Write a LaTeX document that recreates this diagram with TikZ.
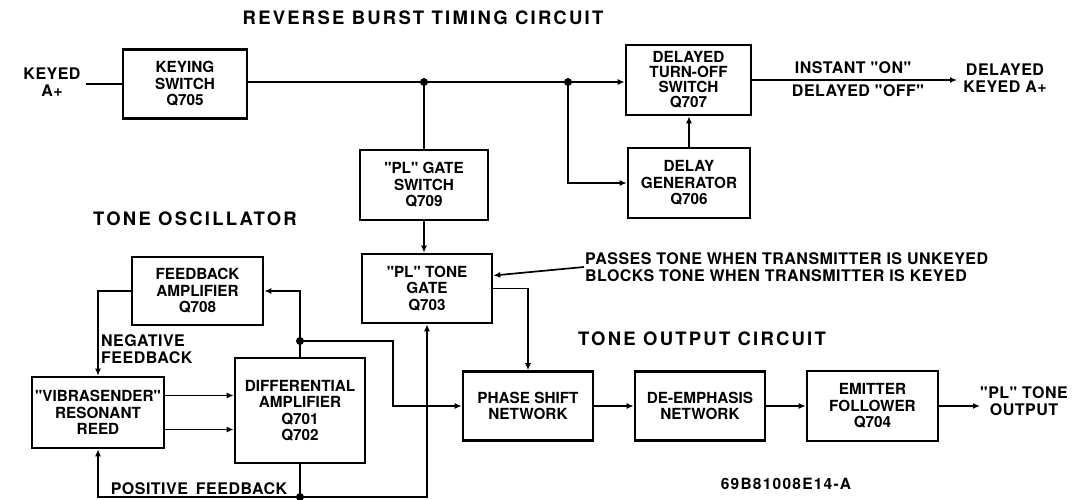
\documentclass[tikz,border=0pt]{standalone}
\usepackage{fontspec}
\setmainfont[Ligatures=TeXOff]{TeX Gyre Heros}
\newfontfamily\lblfam[Ligatures=TeXOff, LetterSpace=3]{TeX Gyre Heros}
\newfontfamily\titlefam[Ligatures=TeXOff, LetterSpace=12]{TeX Gyre Heros}
\newfontfamily\codefam[Ligatures=TeXOff, LetterSpace=8]{TeX Gyre Heros}
\usetikzlibrary{arrows.meta}
\newcommand\bxfont{\bfseries\fontsize{15.3}{16.5}\selectfont}
\newcommand\lbfont{\lblfam\bfseries\fontsize{16}{17}\selectfont}
\begin{document}
\begin{tikzpicture}[x=1pt,y=-1pt,
  box/.style={draw, line width=2.6pt, align=center, font=\bxfont, inner sep=0pt},
  conn/.style={line width=1.7pt},
  arr/.style={conn, -{Latex[length=7pt,width=6pt]}},
  lbl/.style={font=\lbfont, align=center, inner sep=1pt},
  ttl/.style={font=\titlefam\bfseries\fontsize{18.5}{22}\selectfont, inner sep=0pt}]
\fill[white] (0,0) rectangle (1086,500);
\useasboundingbox (0,0) rectangle (1086,500);

% titles
\node[ttl] (t1) at (423,18) {REVERSE BURST TIMING CIRCUIT};
\node[ttl] (t2) at (195,219) {TONE OSCILLATOR};
\node[ttl] (t3) at (702,339) {TONE OUTPUT CIRCUIT};

% boxes
\node[box, minimum width=124pt, minimum height=69pt] (ks) at (185,84) {KEYING\\SWITCH\\Q705};
\node[box, minimum width=125pt, minimum height=70pt, font=\bfseries\fontsize{15.3}{15}\selectfont] (dts) at (688.5,80) {DELAYED\\TURN-OFF\\SWITCH\\Q707};
\node[box, minimum width=122pt, minimum height=70pt] (dg) at (689,183) {DELAY\\GENERATOR\\Q706};
\node[box, minimum width=128pt, minimum height=70pt] (gs) at (424,185) {"PL" GATE\\SWITCH\\Q709};
\node[box, minimum width=130pt, minimum height=69pt] (tg) at (427,288.5) {"PL" TONE\\GATE\\Q703};
\node[box, minimum width=131pt, minimum height=68pt] (fa) at (197.5,291) {FEEDBACK\\AMPLIFIER\\Q708};
\node[box, minimum width=132pt, minimum height=71pt] (vr) at (98,412.5) {"VIBRASENDER"\\RESONANT\\REED};
\node[box, minimum width=130pt, minimum height=105pt] (da) at (300,410.5) {DIFFERENTIAL\\AMPLIFIER\\Q701\\Q702};
\node[box, minimum width=130pt, minimum height=69pt] (ps) at (528,406) {PHASE SHIFT\\NETWORK};
\node[box, minimum width=130pt, minimum height=69pt] (de) at (700,406) {DE-EMPHASIS\\NETWORK};
\node[box, minimum width=131pt, minimum height=70pt] (ef) at (872.5,406) {EMITTER\\FOLLOWER\\Q704};

% labels
\node[lbl] (kin) at (52,82) {KEYED\\A+};
\node[lbl] (on) at (853,68) {INSTANT "ON"};
\node[lbl] (off) at (858,91) {DELAYED "OFF"};
\node[lbl] (dk) at (1005,78) {DELAYED\\KEYED A+};
\node[lbl, anchor=west, align=left] (note) at (584,267) {PASSES TONE WHEN TRANSMITTER IS UNKEYED\\BLOCKS TONE WHEN TRANSMITTER IS KEYED};
\node[lbl, anchor=west, align=left] (neg) at (100,349) {NEGATIVE\\FEEDBACK};
\node[lbl] (pos) at (199,489) {POSITIVE\hspace{0.5em}FEEDBACK};
\node[lbl] (plo) at (1024,401) {"PL" TONE\\OUTPUT};
\node[inner sep=0pt, font=\codefam\bfseries\fontsize{15.5}{16}\selectfont] (code) at (786,484) {69B81008E14-A};

% coordinates
\coordinate (kend) at (86,84);
\coordinate (j1) at (424,82);
\coordinate (j2) at (568,82);
\coordinate (out1) at (957,80);
\coordinate (j3) at (300,341);
\coordinate (c1) at (393,341);
\coordinate (j4) at (300,497);
\coordinate (out2) at (980,406);
\coordinate (v1) at ([yshift=17pt]vr.east);
\coordinate (v2) at ([yshift=-17pt]vr.east);
\coordinate (tgn) at ([yshift=13pt]tg.east);

% reverse burst timing
\draw[conn] (kend) -- (ks.west);
\draw[conn] (ks.east |- j1) -- (j1) -- (j2);
\draw[arr] (j2) -- (j2 -| dts.west);
\draw[conn] (j1) -- (j1 |- gs.north);
\draw[arr] (gs.south) -- (gs.south |- tg.north);
\draw[arr] (j2) |- (dg.west);
\draw[arr] (dg.north) -- (dg.north |- dts.south);
\draw[arr] (dts.east) -- (out1);

% tone oscillator
\draw[arr] (fa.west) -| (vr.north);
\draw[arr] (v1) -- (v1 -| da.west);
\draw[arr] (v2) -- (v2 -| da.west);
\draw[conn] (da.north) -- (j3);
\draw[arr] (j3) |- (fa.east);
\draw[arr] (j3) -- (c1) |- (ps.west);
\draw[conn] (da.south) -- (j4);
\draw[arr] (j4) -| (vr.south);
\draw[arr] (j4) -| (tg.south);

% tone output
\draw[arr] (tg.east) -| (ps.north);
\draw[arr] (note.west) -- (tgn);
\draw[arr] (ps.east) -- (de.west);
\draw[arr] (de.east) -- (ef.west);
\draw[arr] (ef.east) -- (out2);

% junction dots
\foreach \p in {j1,j2,j3,j4} \fill (\p) circle[radius=4pt];
\end{tikzpicture}
\end{document}
